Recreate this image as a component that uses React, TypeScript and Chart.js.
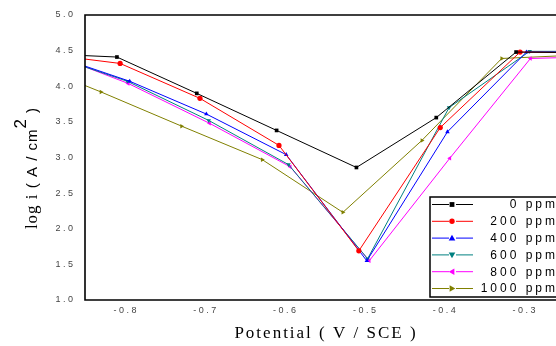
import React, { useEffect, useRef } from 'react';
import { Chart, registerables } from 'chart.js';

Chart.register(...registerables);

// Potential (V vs SCE) and log i values
const x0ppm = [-0.91, -0.81, -0.71, -0.61, -0.51, -0.41, -0.31, -0.21];
const y0ppm = [4.46, 4.41, 3.90, 3.38, 2.86, 3.56, 4.48, 4.47];
const x200ppm = [-0.906, -0.806, -0.706, -0.607, -0.507, -0.405, -0.305, -0.205];
const y200ppm = [4.46, 4.32, 3.83, 3.17, 1.69, 3.42, 4.48, 4.47];
const x400ppm = [-0.894, -0.794, -0.698, -0.598, -0.497, -0.396, -0.297, -0.197];
const y400ppm = [4.45, 4.07, 3.61, 3.04, 1.55, 3.36, 4.48, 4.48];
const x600ppm = [-0.897, -0.797, -0.695, -0.595, -0.496, -0.394, -0.293, -0.193];
const y600ppm = [4.45, 4.07, 3.52, 2.90, 1.58, 3.70, 4.49, 4.49];
const x800ppm = [-0.896, -0.796, -0.694, -0.593, -0.494, -0.393, -0.292, -0.192];
const y800ppm = [4.47, 4.04, 3.48, 2.87, 1.55, 2.99, 4.39, 4.42];
const x1000ppm = [-0.93, -0.83, -0.729, -0.628, -0.527, -0.428, -0.328, -0.228];
const y1000ppm = [4.37, 3.92, 3.44, 2.97, 2.23, 3.24, 4.39, 4.44];

const seriesLabels = ['0 ppm', '200 ppm', '400 ppm', '600 ppm', '800 ppm', '1000 ppm'];
const seriesX = [x0ppm, x200ppm, x400ppm, x600ppm, x800ppm, x1000ppm];
const seriesY = [y0ppm, y200ppm, y400ppm, y600ppm, y800ppm, y1000ppm];
const seriesColors = ['#000000', '#ff0000', '#0000ff', '#008080', '#ff00ff', '#808000'];
const seriesMarkers = ['rect', 'circle', 'triangle', 'triangle', 'triangle', 'triangle'];
const seriesRotation = [0, 0, 0, 180, -90, 90];

const xTicks = [-0.8, -0.7, -0.6, -0.5, -0.4, -0.3];
const xMin = -0.85;
const xMax = -0.25;
const yMin = 1.0;
const yMax = 5.0;

const CW = 570;
const CH = 346;

function spaced(s: string) {
  return s.split('').join(' ');
}

function drawMarker(ctx: CanvasRenderingContext2D, kind: string, rot: number, x: number, y: number, r: number, color: string) {
  ctx.save();
  ctx.fillStyle = color;
  ctx.translate(x, y);
  ctx.rotate((rot * Math.PI) / 180);
  ctx.beginPath();
  if (kind === 'rect') {
    ctx.rect(-r * 0.8, -r * 0.8, r * 1.6, r * 1.6);
  } else if (kind === 'circle') {
    ctx.arc(0, 0, r * 0.9, 0, Math.PI * 2);
  } else {
    ctx.moveTo(0, -r * 1.1);
    ctx.lineTo(r * 1.1, r * 0.8);
    ctx.lineTo(-r * 1.1, r * 0.8);
    ctx.closePath();
  }
  ctx.fill();
  ctx.restore();
}

function drawSpacedRight(ctx: CanvasRenderingContext2D, text: string, rightX: number, y: number, gap: number) {
  const widths = text.split('').map((c) => ctx.measureText(c).width);
  const total = widths.reduce((a, b) => a + b, 0) + gap * (text.length - 1);
  let x = rightX - total;
  ctx.textAlign = 'left';
  text.split('').forEach((c, i) => {
    ctx.fillText(c, x, y);
    x += widths[i] + gap;
  });
}

const SERIF = '"Liberation Serif", "Times New Roman", serif';
const SANS = '"Liberation Sans", Arial, sans-serif';

const decorPlugin = {
  id: 'decor',
  afterDatasetsDraw(chart: any) {
    const { ctx, chartArea } = chart;
    const { left, right, top, bottom } = chartArea;
    ctx.save();
    ctx.strokeStyle = '#000';
    ctx.lineWidth = 1.6;
    ctx.beginPath();
    ctx.moveTo(right, top);
    ctx.lineTo(left, top);
    ctx.lineTo(left, bottom);
    ctx.lineTo(right, bottom);
    ctx.lineTo(right, top);
    ctx.stroke();

    // legend
    const bx = 430;
    const by = 197;
    const bw = 160;
    const bh = 100;
    ctx.fillStyle = '#fff';
    ctx.fillRect(bx, by, bw, bh);
    ctx.lineWidth = 1.5;
    ctx.strokeRect(bx, by, bw, bh);
    const rowH = 16.8;
    ctx.font = '12px ' + SANS;
    ctx.textBaseline = 'middle';
    for (let i = 0; i < seriesLabels.length; i++) {
      const cy = by + 7.5 + i * rowH;
      ctx.strokeStyle = seriesColors[i];
      ctx.lineWidth = 1;
      ctx.beginPath();
      ctx.moveTo(bx + 2, cy);
      ctx.lineTo(bx + 19, cy);
      ctx.moveTo(bx + 26, cy);
      ctx.lineTo(bx + 43, cy);
      ctx.stroke();
      drawMarker(ctx, seriesMarkers[i], seriesRotation[i], bx + 22, cy, 3, seriesColors[i]);
      ctx.fillStyle = '#000';
      drawSpacedRight(ctx, seriesLabels[i], 555, cy + 0.5, 3);
    }

    // x title
    ctx.fillStyle = '#000';
    ctx.textAlign = 'center';
    ctx.textBaseline = 'alphabetic';
    ctx.font = '17px ' + SERIF;
    try { (ctx as any).letterSpacing = '2px'; } catch (e) {}
    ctx.fillText('Potential ( V / SCE )', 326, 338);

    // y title with superscript
    ctx.save();
    ctx.translate(37, 168);
    ctx.rotate(-Math.PI / 2);
    try { (ctx as any).letterSpacing = '1px'; } catch (e) {}
    const parts = [
      { t: 'log i ', f: '17px ' + SERIF, dy: 0 },
      { t: '( A / cm', f: '15px ' + SANS, dy: 0 },
      { t: '2', f: '17px ' + SANS, dy: -11 },
      { t: ' )', f: '15px ' + SANS, dy: 0 },
    ];
    const widths = parts.map((p) => {
      ctx.font = p.f;
      return ctx.measureText(p.t).width;
    });
    const total = widths.reduce((a, b) => a + b, 0);
    let px = -total / 2;
    ctx.textAlign = 'left';
    parts.forEach((p, i) => {
      ctx.font = p.f;
      ctx.fillText(p.t, px, p.dy);
      px += widths[i];
    });
    ctx.restore();
    ctx.restore();
  },
};

export default function App() {
  const ref = useRef<HTMLCanvasElement | null>(null);

  useEffect(() => {
    document.documentElement.style.overflow = 'hidden';
    document.body.style.margin = '0';
    document.body.style.overflow = 'hidden';
    if (!ref.current) return;
    const datasets = seriesLabels.map((label, i) => ({
      label,
      data: seriesX[i].map((x, j) => ({ x, y: seriesY[i][j] })),
      borderColor: seriesColors[i],
      backgroundColor: seriesColors[i],
      borderWidth: 1,
      pointStyle: seriesMarkers[i] as any,
      rotation: seriesRotation[i],
      pointRadius: 2.6,
      pointBorderWidth: 0,
      tension: 0,
    }));
    const chart = new Chart(ref.current, {
      type: 'line',
      data: { datasets },
      options: {
        responsive: false,
        animation: false,
        layout: { padding: { left: 0, top: 15, right: CW - 564, bottom: 0 } },
        plugins: {
          legend: { display: false },
          tooltip: { enabled: false },
        },
        scales: {
          x: {
            type: 'linear',
            min: xMin,
            max: xMax,
            grid: { display: false, drawTicks: false },
            border: { display: false },
            afterFit: (s: any) => {
              s.height = CH - 300;
              s.paddingLeft = 0;
              s.paddingRight = 0;
            },
            afterBuildTicks: (s: any) => {
              s.ticks = xTicks.map((v) => ({ value: v }));
            },
            ticks: {
              padding: 5,
              color: '#444',
              font: { size: 9, family: SANS },
              callback: (v: any) => spaced(Number(v).toFixed(1)),
              maxRotation: 0,
            },
          },
          y: {
            type: 'linear',
            min: yMin,
            max: yMax,
            grid: { display: false, drawTicks: false },
            border: { display: false },
            afterFit: (s: any) => {
              s.width = 85;
              s.paddingTop = 0;
              s.paddingBottom = 0;
            },
            ticks: {
              stepSize: 0.5,
              padding: 12,
              color: '#444',
              font: { size: 9, family: SANS },
              callback: (v: any) => spaced(Number(v).toFixed(1)),
            },
          },
        },
      },
      plugins: [decorPlugin],
    });
    return () => chart.destroy();
  }, []);

  return (
    <div style={{ width: 556, height: CH, overflow: 'hidden' }}>
      <canvas ref={ref} width={CW} height={CH} style={{ display: 'block', width: CW, height: CH }} />
    </div>
  );
}
